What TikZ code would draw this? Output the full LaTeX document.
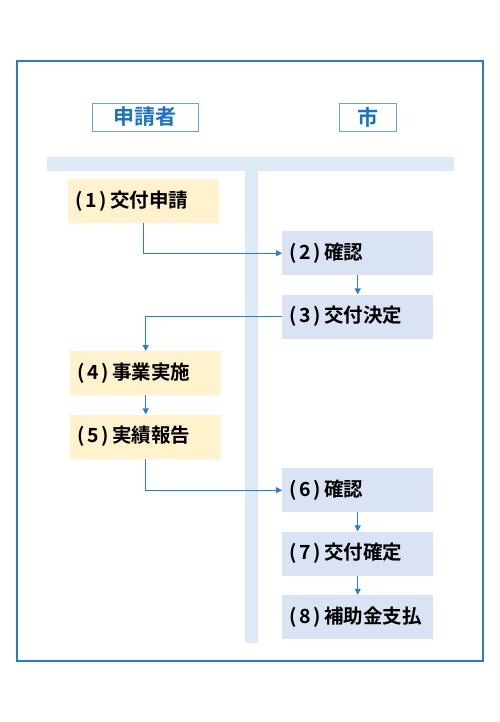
\documentclass[tikz,border=0pt]{standalone}
\usepackage{fontspec}
\setmainfont{Noto Sans CJK JP}[BoldFont={Noto Sans CJK JP Bold}]
\usetikzlibrary{arrows.meta,positioning}
\definecolor{Frame}{HTML}{2A7BC6}
\definecolor{Flow}{HTML}{2580D0}
\definecolor{Lane}{HTML}{DDE9F5}
\definecolor{HeadLine}{HTML}{6AA2D8}
\definecolor{HeadText}{HTML}{1B72BF}
\definecolor{ApplSoft}{HTML}{FFF2CC}
\definecolor{CitySoft}{HTML}{DAE3F3}
\newcommand{\stepno}[1]{(\kern2.5pt#1\kern2.5pt)\kern4pt}
\tikzset{
  lanehead/.style={draw=HeadLine,line width=0.8pt,text=HeadText,font=\bfseries\fontsize{21}{24}\selectfont,minimum height=28pt,inner sep=0pt},
  stepbox/.style={anchor=north west,minimum width=151pt,minimum height=44pt,text width=137pt,align=left,inner xsep=7pt,inner ysep=0pt,font=\bfseries\fontsize{19.5}{22}\selectfont,text=black},
  applbox/.style={stepbox,fill=ApplSoft},
  citybox/.style={stepbox,fill=CitySoft},
  arrow/.style={-{Triangle[length=6pt,width=6pt]},line width=1.2pt,draw=Flow}
}
\begin{document}
\begin{tikzpicture}[x=1pt,y=-1pt]
\useasboundingbox (0,0) rectangle (500,722);
\draw[Frame,line width=2pt] (17,61) rectangle (483,661);
% lanes
\node[lanehead,minimum width=106pt] (applicant) at (145,117) {申請者};
\node[lanehead,minimum width=57pt] (city) at (367.5,117) {市};
\fill[Lane] (47,157) rectangle (454,171);
\fill[Lane] (245,171) rectangle (258,643);
% steps
\node[applbox] (apply) at (68,179) {\stepno{1}交付申請};
\node[citybox] (check1) at (282,231) {\stepno{2}確認};
\node[citybox,below=19pt of check1] (decide) {\stepno{3}交付決定};
\node[applbox] (work) at (70,351) {\stepno{4}事業実施};
\node[applbox,below=19pt of work] (report) {\stepno{5}実績報告};
\node[citybox] (check2) at (282,468) {\stepno{6}確認};
\node[citybox,below=19pt of check2] (fix) {\stepno{7}交付確定};
\node[citybox,below=19pt of fix] (pay) {\stepno{8}補助金支払};
\draw[arrow] (apply.south) |- (check1.west);
\draw[arrow] (check1)--(decide);
\draw[arrow] (decide.west) -| (work.north);
\draw[arrow] (work)--(report);
\draw[arrow] (report.south) |- (check2.west);
\draw[arrow] (check2)--(fix);\draw[arrow] (fix)--(pay);
\end{tikzpicture}
\end{document}
